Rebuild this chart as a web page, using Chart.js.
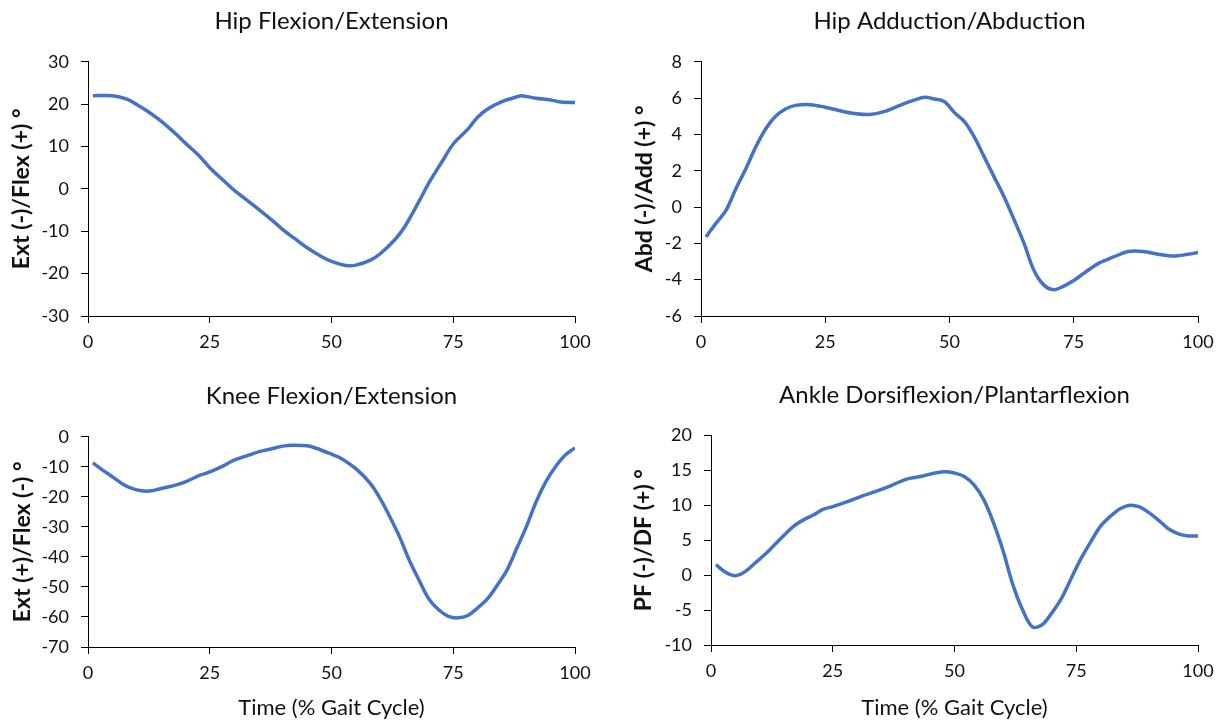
<!DOCTYPE html>
<html>
<head>
<meta charset="utf-8">
<script src="https://cdn.jsdelivr.net/npm/chart.js@4"></script>
<style>
  body{margin:0;background:#fff;width:1224px;height:721px;position:relative;overflow:hidden}
  .box{position:absolute}
</style>
</head>
<body>
<div class="box" style="left:0;top:0;width:612px;height:360px"><canvas id="hipFlex"></canvas></div>
<div class="box" style="left:612px;top:0;width:612px;height:360px"><canvas id="hipAdd"></canvas></div>
<div class="box" style="left:0;top:370px;width:612px;height:351px"><canvas id="knee"></canvas></div>
<div class="box" style="left:612px;top:370px;width:612px;height:351px"><canvas id="ankle"></canvas></div>
<script>
// gait kinematics, % gait cycle vs joint angle (deg)
const hipFlexX = [1,5,8,10,12,15,18,20,23,25,28,30,33,35,38,40,43,45,48,50,53,55,58,60,63,65,68,70,73,75,78,80,82,85,88,89,92,95,97,100];
const hipFlexY = [22,22,21.2,19.9,18.5,16,13,10.8,7.6,5,1.8,-0.3,-3,-4.8,-7.6,-9.6,-12.2,-13.9,-16,-17.1,-18.1,-18,-16.8,-15.3,-12,-9,-2.9,1.4,7,10.6,14.1,16.9,18.8,20.6,21.7,22,21.4,21,20.5,20.4];

const hipAddX = [1,3,5,7,9,11,13,15,17,19,22,25,28,31,34,37,40,43,45,47,49,51,53,55,57,59,61,63,65,67,69,71,73,75,77,80,83,86,89,92,95,98,100];
const hipAddY = [-1.65,-0.9,-0.2,1.0,2.1,3.3,4.3,5.0,5.4,5.6,5.64,5.5,5.3,5.15,5.1,5.27,5.6,5.9,6.05,5.95,5.8,5.2,4.7,3.85,2.75,1.65,0.55,-0.7,-2.0,-3.5,-4.3,-4.55,-4.35,-4.05,-3.65,-3.1,-2.75,-2.45,-2.45,-2.6,-2.7,-2.6,-2.5];

const kneeX = [1,3,5,7,9,11,13,15,18,20,23,25,28,30,33,35,38,40,42,45,47,50,52,55,58,60,62,64,66,68,70,72,74,76,78,80,82,84,86,88,90,92,94,96,98,100];
const kneeY = [-8.7,-11.1,-13.3,-15.6,-17.2,-18,-18,-17.2,-16.1,-15,-12.8,-11.7,-9.5,-7.8,-6.1,-5,-3.9,-3.1,-2.8,-3,-3.9,-5.8,-7.2,-10.6,-15.6,-20.6,-26.7,-33.4,-41.2,-47.8,-54,-57.6,-59.8,-60.3,-59.5,-57,-54,-49.5,-44.5,-37.3,-30,-21.7,-15,-10,-6.1,-3.7];

const ankleX = [1,3,5,7,9,11,13,15,17,19,21,23,25,28,31,34,37,40,43,46,48,50,52,54,56,58,60,62,64,66,68,70,72,74,76,78,80,82,84,86,88,90,92,94,96,98,100];
const ankleY = [1.5,0.4,-0.1,0.5,1.7,2.9,4.3,5.7,7,7.9,8.6,9.4,9.8,10.5,11.3,12,12.8,13.7,14.1,14.6,14.8,14.6,14.1,12.9,10.8,7.5,3.4,-1.4,-5,-7.4,-7.1,-5.4,-3.3,-0.4,2.4,4.8,7,8.4,9.5,10,9.75,8.9,7.8,6.6,5.9,5.6,5.6];

const xTicks = [0,25,50,75,100];

const FONT = "Lato, 'Open Sans', sans-serif";
const INK = "#111";

function pts(xs, ys){ return xs.map((x,i)=>({x:x, y:ys[i]})); }

function makeChart(id, cfg){
  new Chart(document.getElementById(id), {
    type: "line",
    data: { datasets: [{ data: pts(cfg.x, cfg.y), borderColor: "#4472C4", borderWidth: 3.5,
      pointRadius: 0, tension: 0.35, fill: false }] },
    options: {
      responsive: true, maintainAspectRatio: false, animation: false,
      layout: { padding: { left: 0, right: cfg.padRight, top: 0, bottom: 0 } },
      plugins: {
        legend: { display: false }, tooltip: { enabled: false },
        title: { display: true, text: cfg.title, fullSize: false, color: INK,
          font: { family: FONT, size: 24, weight: "normal" },
          padding: { top: cfg.titleTop, bottom: cfg.titleBottom } }
      },
      scales: {
        x: {
          type: "linear", min: 0, max: 100,
          afterBuildTicks: s => { s.ticks = xTicks.map(v=>({value:v})); },
          afterFit: s => { s.height = cfg.xHeight; },
          grid: { drawOnChartArea: false, drawTicks: true, tickLength: 7, color: "#000" },
          border: { color: "#000", width: 1 },
          ticks: { color: INK, padding: 8, font: { family: FONT, size: 18 } },
          title: { display: !!cfg.xTitle, text: cfg.xTitle || "", color: INK,
            font: { family: FONT, size: 22 }, padding: { top: 0, bottom: 0 } }
        },
        y: {
          min: cfg.yMin, max: cfg.yMax,
          ticks: { stepSize: cfg.yStep, color: INK, padding: 12, font: { family: FONT, size: 18 } },
          afterFit: s => { s.width = cfg.yWidth; },
          grid: { drawOnChartArea: false, drawTicks: true, tickLength: 7, color: "#000" },
          border: { color: "#000", width: 1 },
          title: { display: true, text: cfg.yTitle, color: INK,
            font: { family: FONT, size: 23, weight: "bold" }, padding: { top: cfg.yTitlePad, bottom: 0 } }
        }
      }
    }
  });
}

makeChart("hipFlex", { x: hipFlexX, y: hipFlexY, title: "Hip Flexion/Extension",
  yTitle: "Ext (-)/Flex (+) °", yMin: -30, yMax: 30, yStep: 10,
  yWidth: 88, padRight: 37, xHeight: 44, titleTop: 7, titleBottom: 26, yTitlePad: 8 });

makeChart("hipAdd", { x: hipAddX, y: hipAddY, title: "Hip Adduction/Abduction",
  yTitle: "Abd (-)/Add (+) °", yMin: -6, yMax: 8, yStep: 2,
  yWidth: 89, padRight: 26, xHeight: 44, titleTop: 7, titleBottom: 26, yTitlePad: 19 });

makeChart("knee", { x: kneeX, y: kneeY, title: "Knee Flexion/Extension",
  yTitle: "Ext (+)/Flex (-) °", yMin: -70, yMax: 0, yStep: 10, xTitle: "Time (% Gait Cycle)",
  yWidth: 88, padRight: 37, xHeight: 74, titleTop: 12, titleBottom: 26, yTitlePad: 9 });

makeChart("ankle", { x: ankleX, y: ankleY, title: "Ankle Dorsiflexion/Plantarflexion",
  yTitle: "PF (-)/DF (+) °", yMin: -10, yMax: 20, yStep: 5, xTitle: "Time (% Gait Cycle)",
  yWidth: 99, padRight: 26, xHeight: 76, titleTop: 11, titleBottom: 25.5, yTitlePad: 18 });
</script>
</body>
</html>
